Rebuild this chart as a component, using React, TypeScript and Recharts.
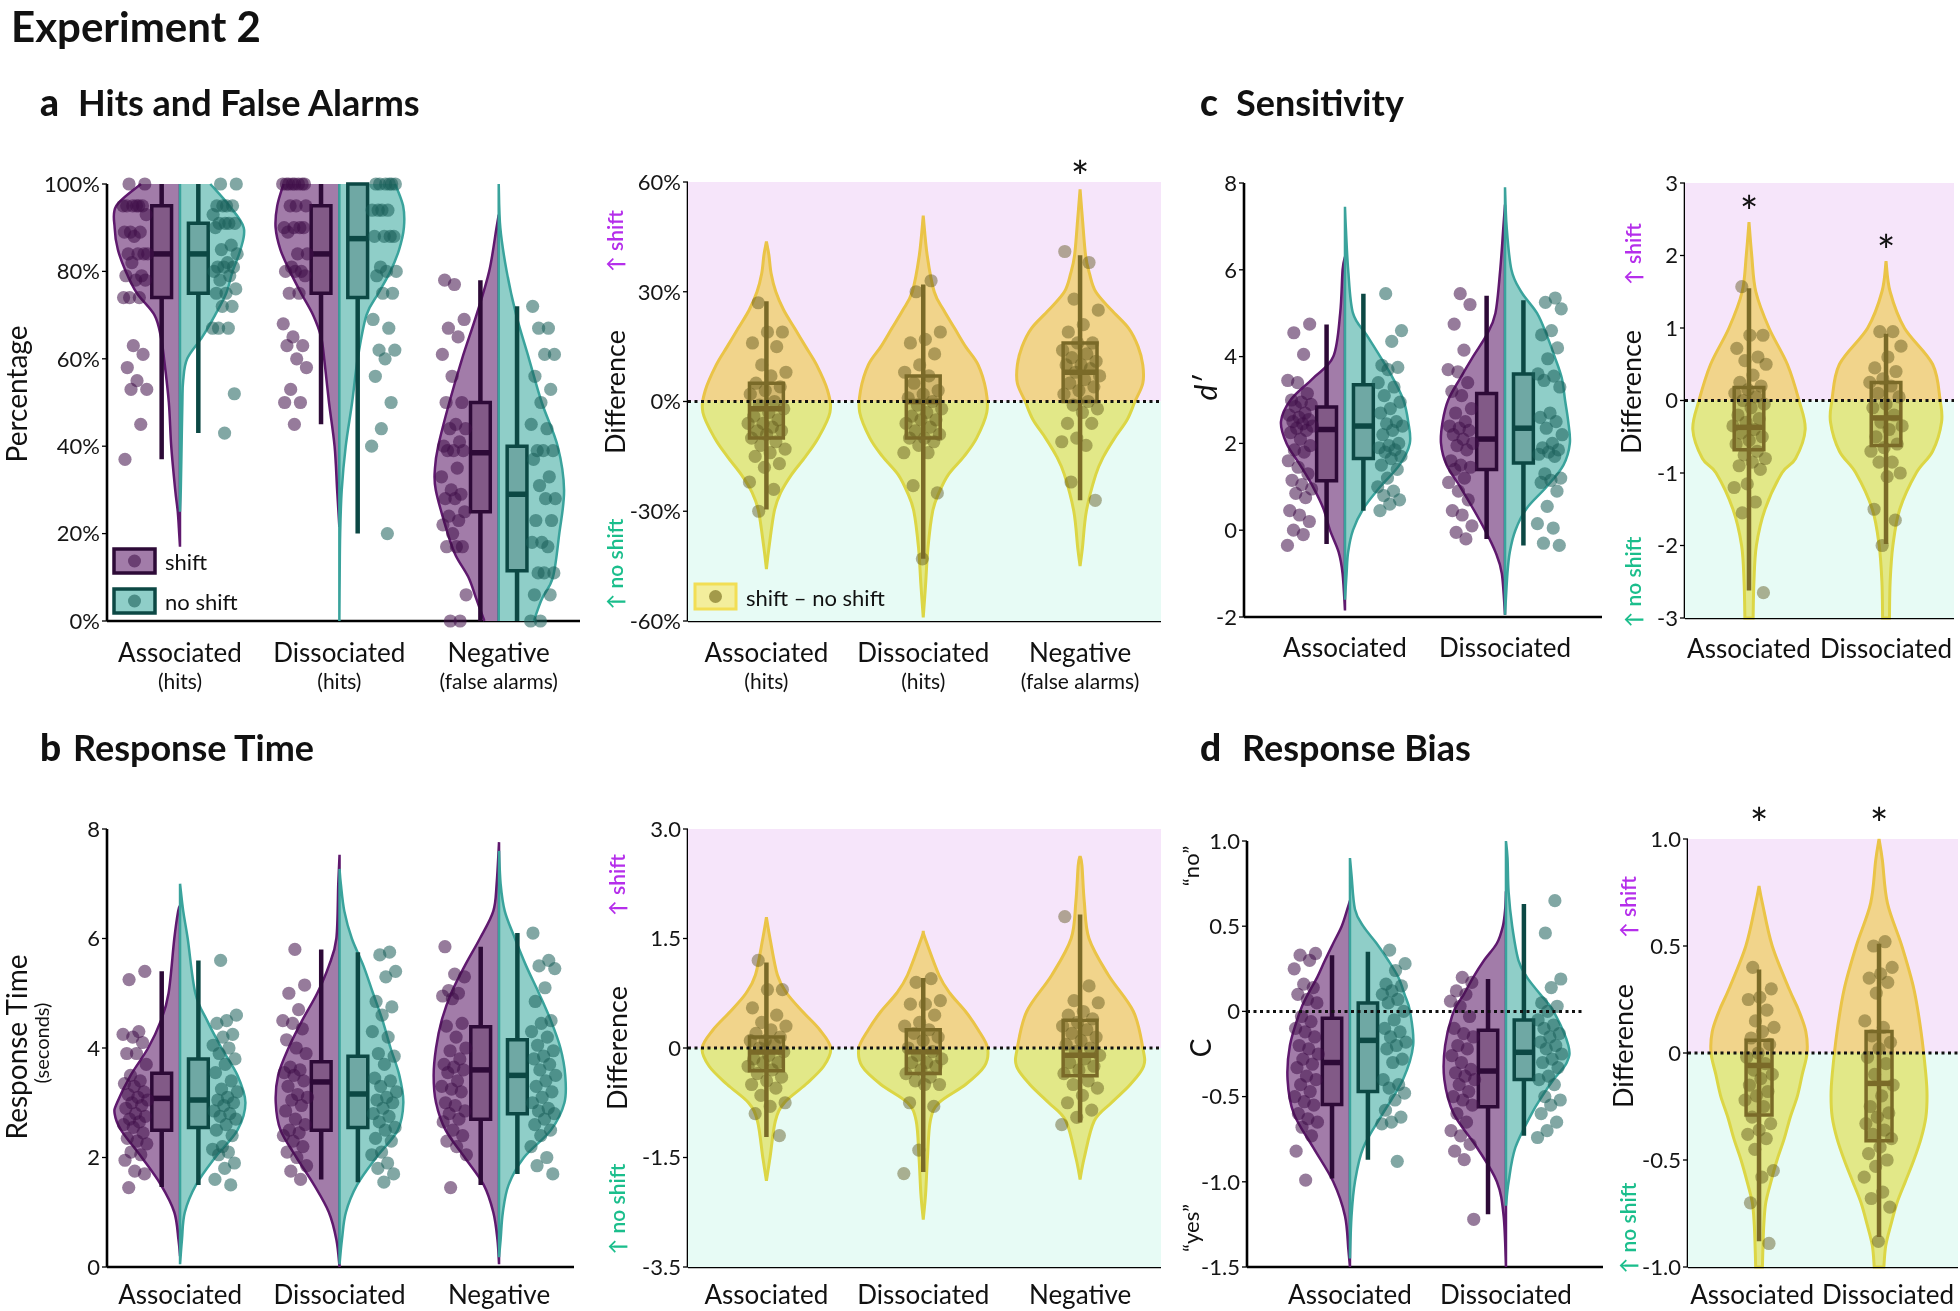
import React from "react";
import { ScatterChart, Scatter, XAxis, YAxis, ReferenceDot } from "recharts";

const FONT = "Lato, 'Noto Sans', sans-serif";

// ---------------- panel a : hits and false alarms (%) ----------------
const A_CATS = ["Associated", "Dissociated", "Negative"];
const A_SUBS = ["(hits)", "(hits)", "(false alarms)"];
const A_TICKS = [0, 20, 40, 60, 80, 100];
const A_TICK_LABELS = ["0%", "20%", "40%", "60%", "80%", "100%"];
const AD_TICKS = [-60, -30, 0, 30, 60];
const AD_TICK_LABELS = ["-60%", "-30%", "0%", "30%", "60%"];

// [value, half width], bottom to top
const A_SHIFT_VIOLIN = [
  [[17, 0], [20, 0.005], [25, 0.014], [30, 0.03], [40, 0.055], [50, 0.07], [60, 0.1], [65, 0.12], [70, 0.16], [75, 0.27], [80, 0.34], [85, 0.39], [90, 0.41], [95, 0.4], [100, 0.245]],
  [[21.5, 0], [30, 0.014], [40, 0.03], [50, 0.065], [60, 0.095], [65, 0.115], [70, 0.165], [75, 0.24], [80, 0.31], [85, 0.37], [90, 0.4], [95, 0.39], [100, 0.35]],
  [[0, 0.09], [5, 0.14], [10, 0.19], [15, 0.27], [20, 0.32], [30, 0.395], [35, 0.4], [40, 0.38], [50, 0.31], [60, 0.23], [70, 0.14], [80, 0.06], [90, 0.014], [93, 0]],
];
const A_NOSHIFT_VIOLIN = [
  [[25, 0], [30, 0.005], [40, 0.01], [50, 0.015], [55, 0.02], [60, 0.045], [65, 0.14], [70, 0.22], [75, 0.29], [80, 0.33], [85, 0.38], [90, 0.4], [95, 0.31], [100, 0.19]],
  [[0, 0], [10, 0.002], [20, 0.005], [30, 0.015], [40, 0.04], [50, 0.08], [60, 0.115], [70, 0.17], [75, 0.245], [80, 0.32], [85, 0.375], [90, 0.405], [95, 0.4], [100, 0.35]],
  [[0, 0.22], [5, 0.27], [10, 0.34], [20, 0.38], [30, 0.41], [40, 0.37], [50, 0.27], [60, 0.19], [70, 0.11], [80, 0.05], [90, 0.01], [100, 0]],
];
// [low whisker, q1, median, q3, high whisker]
const A_SHIFT_BOX = [[37, 74, 84, 95, 100], [45, 75, 84, 95, 100], [0, 25, 38.5, 50, 78]];
const A_NOSHIFT_BOX = [[43, 75, 84, 91, 100], [20, 74, 87.5, 100, 100], [0, 11.5, 29, 40, 72]];
const A_SHIFT_PTS = [
  [100, 100, 95, 95, 95, 95, 95, 95, 93, 89, 89, 89, 88, 84, 84, 84, 84, 82, 79, 79, 78, 78, 74, 74, 74, 63, 61, 58, 55, 53, 53, 45, 37],
  [100, 100, 100, 100, 100, 100, 100, 100, 95, 95, 95, 90, 90, 90, 90, 89, 84, 84, 81, 80, 80, 80, 79, 75, 75, 68, 65, 63, 63, 60, 58, 53, 50, 50, 45],
  [78, 77, 69, 67, 65, 61, 56, 50, 50, 45, 44, 44, 41, 40, 39, 39, 39, 35, 33, 30, 29, 28, 28, 25, 24, 23, 22, 20, 17, 17, 17, 6, 0, 0],
];
const A_NOSHIFT_PTS = [
  [100, 100, 95, 95, 95, 95, 93, 91, 91, 91, 91, 90, 86, 85, 84, 82, 81, 81, 81, 80, 79, 78, 76, 75, 75, 72, 72, 67, 67, 67, 52, 43],
  [100, 100, 100, 100, 100, 100, 94, 94, 94, 94, 88, 88, 88, 88, 81, 80, 80, 79, 75, 75, 69, 67, 62, 62, 60, 56, 50, 44, 40, 20],
  [72, 67, 67, 61, 61, 56, 53, 50, 45, 44, 39, 39, 39, 37, 33, 31, 28, 28, 23, 23, 18, 18, 17, 11, 11, 11, 6, 6, 0, 0],
];
const A_DIFF_VIOLIN = [
  [[-45.8, 0], [-40, 0.016], [-30, 0.05], [-25, 0.09], [-20, 0.16], [-15, 0.25], [-10, 0.33], [-3, 0.405], [3, 0.39], [10, 0.32], [15, 0.25], [20, 0.18], [25, 0.11], [30, 0.06], [35, 0.03], [40, 0.016], [43.7, 0]],
  [[-59, 0], [-50, 0.015], [-40, 0.03], [-30, 0.06], [-25, 0.1], [-20, 0.16], [-15, 0.26], [-10, 0.34], [-3, 0.405], [3, 0.4], [10, 0.35], [15, 0.27], [20, 0.2], [25, 0.13], [30, 0.07], [40, 0.025], [50.8, 0]],
  [[-45, 0], [-40, 0.015], [-30, 0.04], [-20, 0.1], [-15, 0.15], [-10, 0.22], [-5, 0.3], [0, 0.35], [5, 0.4], [10, 0.4], [15, 0.37], [20, 0.31], [25, 0.2], [30, 0.1], [35, 0.06], [40, 0.035], [50, 0.015], [58, 0]],
];
const A_DIFF_BOX = [[-29.5, -10, -2, 5, 27.4], [-43, -10, 0, 7, 32], [-27, 0, 8, 16, 40]];
const A_DIFF_PTS = [
  [27, 19, 19, 16, 15, 10, 8, 7, 5, 4, 3, 2, 0, -1, -2, -3, -4, -5, -6, -6, -7, -8, -8, -9, -10, -11, -12, -13, -14, -15, -17, -18, -22, -24, -30],
  [33, 30, 19, 17, 16, 13, 10, 8, 7, 5, 3, 2, 1, 0, -1, -2, -3, -4, -5, -5, -6, -7, -8, -9, -10, -10, -11, -12, -14, -14, -23, -25, -43],
  [41, 38, 28, 25, 21, 19, 16, 16, 14, 13, 12, 11, 10, 10, 9, 8, 7, 6, 5, 4, 3, 2, 0, -1, -2, -3, -6, -6, -10, -11, -12, -22, -27],
];
const A_DIFF_STARS = [[3, 63.8]];

// ---------------- panel b : response time (s) ----------------
const B_CATS = ["Associated", "Dissociated", "Negative"];
const B_TICKS = [0, 2, 4, 6, 8];
const B_TICK_LABELS = ["0", "2", "4", "6", "8"];
const BD_TICKS = [-3, -1.5, 0, 1.5, 3];
const BD_TICK_LABELS = ["-3.5", "-1.5", "0", "1.5", "3.0"];

const B_SHIFT_VIOLIN = [
  [[0.2, 0], [0.5, 0.01], [1, 0.036], [1.5, 0.12], [2, 0.24], [2.5, 0.37], [2.8, 0.41], [3, 0.395], [3.5, 0.31], [4, 0.2], [4.5, 0.12], [5, 0.072], [6, 0.036], [6.5, 0.012], [6.6, 0]],
  [[0, 0], [0.5, 0.02], [1, 0.067], [1.5, 0.16], [2, 0.27], [2.5, 0.37], [3, 0.4], [3.5, 0.385], [4, 0.32], [4.5, 0.235], [5, 0.14], [5.5, 0.067], [6, 0.02], [7, 0.008], [7.53, 0]],
  [[0.05, 0], [0.5, 0.01], [1, 0.036], [1.5, 0.096], [2, 0.215], [2.5, 0.335], [3, 0.395], [3.5, 0.41], [4, 0.395], [4.5, 0.36], [5, 0.3], [5.5, 0.215], [6, 0.12], [6.5, 0.036], [7, 0.015], [7.76, 0]],
];
const B_NOSHIFT_VIOLIN = [
  [[0.05, 0], [0.5, 0.012], [1, 0.03], [1.5, 0.1], [2, 0.22], [2.5, 0.36], [3, 0.41], [3.5, 0.36], [4, 0.26], [4.5, 0.17], [5, 0.096], [6, 0.048], [6.5, 0.02], [7, 0]],
  [[0.05, 0], [0.5, 0.015], [1, 0.04], [1.5, 0.11], [2, 0.23], [2.5, 0.365], [3, 0.4], [3.5, 0.375], [4, 0.32], [4.5, 0.27], [5, 0.21], [5.5, 0.15], [6, 0.077], [6.5, 0.03], [7, 0.008], [7.27, 0]],
  [[0.18, 0], [0.5, 0.01], [1, 0.024], [1.5, 0.06], [2, 0.156], [2.5, 0.325], [3, 0.41], [3.5, 0.415], [4, 0.385], [4.5, 0.325], [5, 0.25], [5.5, 0.17], [6, 0.1], [6.5, 0.036], [7, 0.01], [7.6, 0]],
];
const B_SHIFT_BOX = [[1.46, 2.5, 3.08, 3.54, 5.4], [1.6, 2.5, 3.38, 3.75, 5.8], [1.5, 2.7, 3.6, 4.39, 5.85]];
const B_NOSHIFT_BOX = [[1.5, 2.55, 3.05, 3.8, 5.6], [1.55, 2.55, 3.16, 3.85, 5.75], [1.7, 2.8, 3.5, 4.15, 6.1]];
const B_SHIFT_PTS = [
  [5.4, 5.25, 4.3, 4.25, 4.2, 4.1, 3.9, 3.9, 3.7, 3.5, 3.4, 3.35, 3.3, 3.2, 3.15, 3.1, 3.05, 3.0, 2.95, 2.9, 2.8, 2.75, 2.7, 2.65, 2.6, 2.55, 2.45, 2.35, 2.3, 2.25, 2.1, 2.05, 1.95, 1.75, 1.7, 1.45],
  [5.8, 5.15, 5.0, 4.7, 4.5, 4.45, 4.35, 4.15, 4.0, 3.9, 3.65, 3.6, 3.55, 3.5, 3.4, 3.3, 3.15, 3.1, 3.05, 2.95, 2.85, 2.7, 2.6, 2.5, 2.45, 2.4, 2.3, 2.2, 2.1, 2.0, 1.85, 1.75, 1.6],
  [5.85, 5.35, 5.3, 5.05, 5.0, 4.95, 4.9, 4.45, 4.4, 4.2, 4.0, 3.95, 3.8, 3.7, 3.65, 3.6, 3.55, 3.4, 3.3, 3.25, 3.2, 3.0, 2.95, 2.85, 2.8, 2.7, 2.65, 2.5, 2.4, 2.3, 2.2, 2.05, 1.45],
];
const B_NOSHIFT_PTS = [
  [5.6, 4.6, 4.5, 4.45, 4.25, 4.2, 4.05, 4.0, 3.9, 3.8, 3.7, 3.55, 3.4, 3.25, 3.2, 3.1, 3.05, 3.0, 2.95, 2.85, 2.8, 2.75, 2.7, 2.6, 2.5, 2.4, 2.2, 2.15, 2.1, 2.05, 1.9, 1.8, 1.6, 1.5],
  [5.75, 5.7, 5.4, 5.3, 4.85, 4.75, 4.6, 4.3, 4.2, 3.9, 3.85, 3.7, 3.45, 3.4, 3.3, 3.2, 3.1, 3.05, 3.0, 2.9, 2.8, 2.75, 2.65, 2.55, 2.5, 2.35, 2.3, 2.1, 2.05, 1.9, 1.8, 1.7, 1.55],
  [6.1, 5.6, 5.5, 5.45, 5.1, 4.85, 4.5, 4.45, 4.3, 4.2, 4.05, 3.95, 3.85, 3.8, 3.7, 3.6, 3.5, 3.4, 3.3, 3.2, 3.1, 3.0, 2.9, 2.85, 2.8, 2.7, 2.6, 2.5, 2.4, 2.2, 2.0, 1.85, 1.7],
];
const B_DIFF_VIOLIN = [
  [[-1.82, 0], [-1.5, 0.023], [-1, 0.057], [-0.75, 0.114], [-0.5, 0.25], [-0.25, 0.365], [0, 0.41], [0.25, 0.34], [0.5, 0.23], [0.75, 0.13], [1, 0.07], [1.5, 0.023], [1.79, 0]],
  [[-2.35, 0], [-2, 0.015], [-1.5, 0.027], [-1, 0.045], [-0.75, 0.1], [-0.5, 0.27], [-0.25, 0.39], [0, 0.41], [0.25, 0.35], [0.5, 0.27], [0.75, 0.17], [1, 0.1], [1.5, 0.012], [1.6, 0]],
  [[-1.8, 0], [-1.5, 0.027], [-1, 0.09], [-0.75, 0.2], [-0.5, 0.32], [-0.25, 0.405], [0, 0.4], [0.5, 0.34], [1, 0.18], [1.5, 0.057], [2, 0.027], [2.5, 0.012], [2.63, 0]],
];
const B_DIFF_BOX = [[-1.22, -0.31, -0.055, 0.15, 1.17], [-1.7, -0.35, -0.05, 0.25, 0.96], [-1.02, -0.38, -0.1, 0.38, 1.83]];
const B_DIFF_PTS = [
  [1.2, 0.8, 0.8, 0.55, 0.45, 0.35, 0.3, 0.25, 0.2, 0.15, 0.1, 0.1, 0.05, 0.0, -0.05, -0.1, -0.15, -0.2, -0.2, -0.25, -0.3, -0.35, -0.4, -0.45, -0.5, -0.55, -0.65, -0.75, -0.8, -0.9, -1.2],
  [0.95, 0.9, 0.65, 0.6, 0.6, 0.45, 0.35, 0.3, 0.25, 0.2, 0.15, 0.1, 0.0, -0.05, -0.1, -0.15, -0.2, -0.2, -0.25, -0.3, -0.35, -0.4, -0.45, -0.5, -0.5, -0.75, -0.8, -1.4, -1.72],
  [1.8, 0.85, 0.65, 0.62, 0.5, 0.45, 0.4, 0.35, 0.3, 0.25, 0.2, 0.15, 0.1, 0.05, 0.0, -0.05, -0.1, -0.15, -0.2, -0.25, -0.3, -0.35, -0.45, -0.5, -0.55, -0.65, -0.75, -0.85, -0.95, -1.05],
];

// ---------------- panel c : sensitivity (d') ----------------
const C_CATS = ["Associated", "Dissociated"];
const C_TICKS = [-2, 0, 2, 4, 6, 8];
const C_TICK_LABELS = ["-2", "0", "2", "4", "6", "8"];
const CD_TICKS = [-3, -2, -1, 0, 1, 2, 3];
const CD_TICK_LABELS = ["-3", "-2", "-1", "0", "1", "2", "3"];

const C_SHIFT_VIOLIN = [
  [[-1.85, 0], [-1, 0.015], [-0.5, 0.04], [0, 0.094], [0.5, 0.135], [1, 0.2], [1.5, 0.28], [2, 0.365], [2.5, 0.4], [3, 0.34], [3.5, 0.2], [4, 0.073], [5, 0.03], [6, 0.015], [6.3, 0]],
  [[-1.95, 0], [-1, 0.02], [-0.5, 0.06], [0, 0.125], [0.5, 0.2], [1, 0.28], [1.5, 0.365], [2, 0.4], [2.5, 0.39], [3, 0.355], [3.5, 0.28], [4, 0.2], [4.5, 0.115], [5, 0.06], [6, 0.03], [7, 0.01], [7.5, 0]],
];
const C_NOSHIFT_VIOLIN = [
  [[-1.6, 0], [-1, 0.01], [-0.5, 0.02], [0, 0.05], [0.5, 0.115], [1, 0.22], [1.5, 0.34], [2, 0.405], [2.5, 0.395], [3, 0.365], [3.5, 0.3], [4, 0.22], [4.5, 0.135], [5, 0.05], [6, 0.02], [7, 0.005], [7.45, 0]],
  [[-1.95, 0], [-1, 0.015], [-0.5, 0.03], [0, 0.065], [0.5, 0.135], [1, 0.26], [1.5, 0.365], [2, 0.405], [2.5, 0.395], [3, 0.375], [3.5, 0.355], [4, 0.31], [4.5, 0.26], [5, 0.2], [5.5, 0.1], [6, 0.04], [7, 0.01], [7.9, 0]],
];
const C_SHIFT_BOX = [[-0.32, 1.14, 2.32, 2.84, 4.74], [-0.2, 1.4, 2.1, 3.15, 5.4]];
const C_NOSHIFT_BOX = [[0.45, 1.65, 2.4, 3.35, 5.45], [-0.35, 1.55, 2.35, 3.6, 5.3]];
const C_SHIFT_PTS = [
  [4.75, 4.55, 4.05, 3.45, 3.4, 3.15, 3.0, 2.95, 2.9, 2.85, 2.7, 2.65, 2.6, 2.55, 2.5, 2.45, 2.4, 2.35, 2.3, 2.25, 2.1, 1.95, 1.85, 1.8, 1.6, 1.45, 1.3, 1.15, 1.05, 0.95, 0.85, 0.75, 0.45, 0.35, 0.2, 0.0, -0.1, -0.35],
  [5.45, 5.2, 4.75, 4.15, 3.7, 3.65, 3.4, 3.2, 3.1, 2.8, 2.7, 2.5, 2.4, 2.35, 2.3, 2.2, 2.1, 2.0, 1.95, 1.85, 1.6, 1.5, 1.45, 1.4, 1.2, 1.1, 0.9, 0.7, 0.45, 0.35, 0.1, -0.05, -0.2],
];
const C_NOSHIFT_PTS = [
  [5.45, 4.6, 4.35, 3.8, 3.75, 3.7, 3.4, 3.3, 3.1, 2.95, 2.8, 2.7, 2.5, 2.45, 2.4, 2.3, 2.2, 2.0, 1.95, 1.9, 1.85, 1.8, 1.7, 1.65, 1.5, 1.4, 1.2, 1.0, 0.9, 0.8, 0.7, 0.6, 0.45],
  [5.35, 5.25, 5.1, 4.6, 4.5, 4.2, 3.95, 3.6, 3.55, 3.45, 3.3, 2.7, 2.6, 2.5, 2.35, 2.2, 2.0, 1.9, 1.85, 1.8, 1.75, 1.7, 1.3, 1.2, 1.15, 1.1, 0.9, 0.55, 0.15, 0.05, -0.3, -0.35],
];
const C_DIFF_VIOLIN = [
  [[-3, 0.03], [-2.5, 0.036], [-2, 0.054], [-1.5, 0.117], [-1, 0.24], [-0.8, 0.34], [-0.4, 0.41], [0, 0.365], [0.5, 0.28], [1, 0.146], [1.5, 0.05], [2, 0.02], [2.46, 0]],
  [[-3, 0.025], [-2.5, 0.03], [-2, 0.05], [-1.5, 0.1], [-1, 0.22], [-0.7, 0.34], [-0.3, 0.405], [0, 0.395], [0.5, 0.34], [1, 0.134], [1.5, 0.03], [1.92, 0]],
];
const C_DIFF_BOX = [[-2.62, -0.68, -0.37, 0.18, 1.55], [-1.98, -0.62, -0.24, 0.25, 0.92]];
const C_DIFF_PTS = [
  [1.57, 0.9, 0.9, 0.72, 0.6, 0.55, 0.5, 0.35, 0.25, 0.2, 0.15, 0.1, 0.05, 0.0, -0.05, -0.1, -0.2, -0.25, -0.3, -0.35, -0.4, -0.45, -0.5, -0.55, -0.6, -0.7, -0.75, -0.8, -0.85, -0.9, -0.95, -1.15, -1.2, -1.4, -1.55, -2.65],
  [0.95, 0.95, 0.75, 0.6, 0.45, 0.4, 0.3, 0.25, 0.2, 0.1, 0.05, -0.05, -0.1, -0.2, -0.3, -0.35, -0.4, -0.5, -0.6, -0.65, -0.7, -0.85, -0.85, -1.0, -1.05, -1.5, -1.65, -2.0],
];
const C_DIFF_STARS = [[1, 2.72], [2, 2.19]];

// ---------------- panel d : response bias (C) ----------------
const D_CATS = ["Associated", "Dissociated"];
const D_TICKS = [-1.5, -1, -0.5, 0, 0.5, 1];
const D_TICK_LABELS = ["-1.5", "-1.0", "-0.5", "0", "0.5", "1.0"];
const DD_TICKS = [-1, -0.5, 0, 0.5, 1];
const DD_TICK_LABELS = ["-1.0", "-0.5", "0", "0.5", "1.0"];

const D_SHIFT_VIOLIN = [
  [[-1.5, 0], [-1.4, 0.01], [-1.2, 0.032], [-1, 0.107], [-0.8, 0.235], [-0.6, 0.36], [-0.4, 0.4], [-0.2, 0.385], [0, 0.32], [0.1, 0.27], [0.2, 0.21], [0.3, 0.16], [0.4, 0.107], [0.5, 0.053], [0.6, 0.017], [0.65, 0]],
  [[-1.5, 0], [-1.2, 0.015], [-1, 0.058], [-0.8, 0.185], [-0.6, 0.335], [-0.4, 0.395], [-0.2, 0.39], [0, 0.335], [0.1, 0.27], [0.2, 0.21], [0.3, 0.14], [0.4, 0.058], [0.5, 0.02], [0.6, 0.005], [0.705, 0]],
];
const D_NOSHIFT_VIOLIN = [
  [[-1.45, 0], [-1.2, 0.01], [-1, 0.032], [-0.8, 0.085], [-0.6, 0.21], [-0.4, 0.34], [-0.2, 0.405], [0, 0.385], [0.1, 0.35], [0.2, 0.31], [0.3, 0.245], [0.4, 0.17], [0.5, 0.085], [0.6, 0.032], [0.8, 0.01], [0.9, 0]],
  [[-1.14, 0], [-1, 0.017], [-0.8, 0.06], [-0.6, 0.165], [-0.5, 0.23], [-0.4, 0.305], [-0.3, 0.39], [-0.2, 0.4], [0, 0.305], [0.1, 0.22], [0.2, 0.135], [0.3, 0.08], [0.5, 0.04], [0.7, 0.017], [0.9, 0.01], [1.0, 0]],
];
const D_SHIFT_BOX = [[-0.98, -0.547, -0.3, -0.04, 0.33], [-1.19, -0.56, -0.35, -0.11, 0.19]];
const D_NOSHIFT_BOX = [[-0.87, -0.47, -0.17, 0.05, 0.35], [-0.73, -0.4, -0.24, -0.05, 0.63]];
const D_SHIFT_PTS = [
  [0.34, 0.33, 0.3, 0.25, 0.16, 0.14, 0.1, 0.07, 0.05, -0.03, -0.06, -0.1, -0.12, -0.15, -0.2, -0.22, -0.25, -0.28, -0.31, -0.33, -0.38, -0.4, -0.43, -0.47, -0.5, -0.53, -0.55, -0.6, -0.63, -0.65, -0.68, -0.73, -0.82, -0.99],
  [0.2, 0.17, 0.12, 0.1, 0.06, 0.03, -0.03, -0.1, -0.13, -0.15, -0.2, -0.22, -0.26, -0.3, -0.34, -0.36, -0.38, -0.4, -0.43, -0.47, -0.5, -0.52, -0.55, -0.6, -0.65, -0.7, -0.73, -0.78, -0.82, -0.87, -1.22],
];
const D_NOSHIFT_PTS = [
  [0.36, 0.28, 0.24, 0.16, 0.15, 0.12, 0.1, 0.07, 0.05, 0.0, -0.05, -0.1, -0.12, -0.15, -0.18, -0.2, -0.22, -0.28, -0.3, -0.4, -0.43, -0.45, -0.48, -0.52, -0.58, -0.62, -0.65, -0.66, -0.88],
  [0.65, 0.46, 0.19, 0.14, 0.05, 0.03, 0.0, -0.05, -0.08, -0.1, -0.13, -0.15, -0.18, -0.2, -0.22, -0.25, -0.28, -0.3, -0.33, -0.38, -0.4, -0.43, -0.5, -0.52, -0.55, -0.6, -0.65, -0.7, -0.74],
];
const D_DIFF_VIOLIN = [
  [[-1, 0.028], [-0.9, 0.033], [-0.8, 0.04], [-0.7, 0.056], [-0.6, 0.1], [-0.5, 0.15], [-0.4, 0.21], [-0.3, 0.26], [-0.2, 0.32], [-0.1, 0.36], [0, 0.4], [0.1, 0.39], [0.2, 0.33], [0.3, 0.25], [0.5, 0.11], [0.7, 0.028], [0.78, 0]],
  [[-1, 0.04], [-0.9, 0.056], [-0.8, 0.1], [-0.7, 0.15], [-0.6, 0.22], [-0.5, 0.29], [-0.4, 0.35], [-0.3, 0.39], [-0.2, 0.4], [-0.1, 0.39], [0.1, 0.35], [0.3, 0.29], [0.5, 0.19], [0.7, 0.07], [0.9, 0.028], [1.0, 0]],
];
const D_DIFF_BOX = [[-0.88, -0.29, -0.058, 0.06, 0.39], [-0.86, -0.41, -0.142, 0.1, 0.51]];
const D_DIFF_PTS = [
  [0.4, 0.3, 0.26, 0.25, 0.2, 0.15, 0.12, 0.1, 0.07, 0.04, 0.0, -0.02, -0.05, -0.08, -0.1, -0.12, -0.15, -0.18, -0.2, -0.22, -0.25, -0.3, -0.33, -0.36, -0.38, -0.4, -0.45, -0.55, -0.58, -0.7, -0.89],
  [0.52, 0.5, 0.4, 0.37, 0.35, 0.33, 0.28, 0.15, 0.12, 0.08, 0.05, 0.02, -0.02, -0.05, -0.1, -0.15, -0.2, -0.25, -0.28, -0.3, -0.33, -0.36, -0.38, -0.4, -0.44, -0.47, -0.5, -0.53, -0.58, -0.65, -0.68, -0.72, -0.88],
];
const D_DIFF_STARS = [[1, 1.11], [2, 1.11]];

// ---------------- styles ----------------
const PUR = { fill: "#A27CA9", edge: "#5F196E", box: "#825A87", dark: "#2D0A37", pt: "#3F0F48" };
const TEA = { fill: "#8FCEC8", edge: "#3AA39C", box: "#6FA8A4", dark: "#0C4844", pt: "#195F5A" };
const YEL = { fill: "#FAEC8E", edge: "#F3DA48", box: "rgba(110,95,25,0.22)", dark: "#7A6A28", pt: "#5A5218" };
const PINK = "#F6E5FA";
const MINT = "#E7FBF5";
const BOX_OFF = 0.115;
const BOX_HW = 0.062;
const DIFF_HW = 0.108;

type Pt = { x: number; y: number };
type Frame = { left: number; top: number; width: number; height: number; mt: number; mr: number; yw: number; xh: number; lab: number };

const FA1: Frame = { left: 0, top: 150, width: 590, height: 546, mt: 34, mr: 10, yw: 107, xh: 75, lab: 31 };
const FA2: Frame = { left: 600, top: 130, width: 565, height: 566, mt: 52, mr: 4, yw: 88, xh: 75, lab: 31 };
const FC1: Frame = { left: 1184, top: 150, width: 424, height: 542, mt: 33, mr: 6, yw: 60, xh: 75, lab: 30 };
const FC2: Frame = { left: 1640, top: 150, width: 318, height: 543, mt: 33, mr: 4, yw: 45, xh: 75, lab: 30 };
const FB1: Frame = { left: 0, top: 800, width: 584, height: 511, mt: 29, mr: 10, yw: 107, xh: 44, lab: 27 };
const FB2: Frame = { left: 600, top: 800, width: 565, height: 511, mt: 29, mr: 4, yw: 88, xh: 44, lab: 27 };
const FD1: Frame = { left: 1187, top: 800, width: 422, height: 511, mt: 41, mr: 6, yw: 60, xh: 44, lab: 27 };
const FD2: Frame = { left: 1640, top: 775, width: 320, height: 536, mt: 64, mr: 2, yw: 48, xh: 44, lab: 27 };

const jit = (i: number, seed: number) => (i * 0.6180339887 + seed) % 1;

// catmull-rom through pixel points, returned as cubic segments
function smooth(pts: Pt[]): string {
  let d = "";
  for (let i = 0; i < pts.length - 1; i++) {
    const p0 = pts[i - 1] || pts[i];
    const p1 = pts[i];
    const p2 = pts[i + 1];
    const p3 = pts[i + 2] || p2;
    d += ` C${p1.x + (p2.x - p0.x) / 6},${p1.y + (p2.y - p0.y) / 6} ${p2.x - (p3.x - p1.x) / 6},${p2.y - (p3.y - p1.y) / 6} ${p2.x},${p2.y}`;
  }
  return d;
}

const NoShape = () => <g />;

const HalfViolin = (p: any) => {
  const pts: Pt[] = p.points || [];
  if (pts.length < 4) return null;
  const cb = pts[0];
  const ct = pts[pts.length - 1];
  const edge = pts.slice(1, -1);
  const c = smooth(edge);
  return (
    <g>
      <path d={`M${cb.x},${cb.y} L${edge[0].x},${edge[0].y}${c} L${ct.x},${ct.y} Z`} fill={p.vFill} stroke="none" />
      <path d={`M${edge[0].x},${edge[0].y}${c} M${ct.x},${ct.y} L${cb.x},${cb.y}`} fill="none" stroke={p.vStroke} strokeWidth={2.5} />
    </g>
  );
};

const FullViolin = (p: any) => {
  const pts: Pt[] = p.points || [];
  if (pts.length < 3) return null;
  const cx = pts[0].x;
  const right = pts.slice(1);
  const left = right.map((q) => ({ x: 2 * cx - q.x, y: q.y })).reverse();
  const d = `M${right[0].x},${right[0].y}${smooth(right)} L${left[0].x},${left[0].y}${smooth(left)} Z`;
  return <path d={d} fill={p.vFill} stroke={p.vStroke} strokeWidth={3} style={{ mixBlendMode: "multiply" }} />;
};

const Poly = (p: any) => {
  const pts: Pt[] = p.points || [];
  if (pts.length < 2) return null;
  const d = pts.map((q, i) => `${i ? "L" : "M"}${q.x},${q.y}`).join(" ") + (p.closed ? " Z" : "");
  return (
    <path d={d} fill={p.closed ? p.pFill : "none"} stroke={p.pStroke || "none"} strokeWidth={p.sw || 0} strokeDasharray={p.dash} />
  );
};

const mk = (key: string, data: Pt[], line: React.ReactElement) => (
  <Scatter key={key} data={data} line={line} shape={NoShape} isAnimationActive={false} />
);

const dots = (key: string, data: Pt[], color: string, op: number) => (
  <Scatter
    key={key}
    data={data}
    isAnimationActive={false}
    shape={(s: any) => <circle cx={s.cx} cy={s.cy} r={6.6} fill={color} fillOpacity={op} />}
  />
);

function boxMarks(id: string, bx: number, hw: number, b: number[], col: any, wsw: number) {
  const [lo, q1, md, q3, hi] = b;
  return [
    mk(`${id}w`, [{ x: bx, y: lo }, { x: bx, y: hi }], <Poly pStroke={col.dark} sw={wsw} />),
    mk(`${id}b`, [{ x: bx - hw, y: q1 }, { x: bx + hw, y: q1 }, { x: bx + hw, y: q3 }, { x: bx - hw, y: q3 }], <Poly closed pFill={col.box} pStroke={col.dark} sw={3.5} />),
    mk(`${id}m`, [{ x: bx - hw, y: md }, { x: bx + hw, y: md }], <Poly pStroke={col.dark} sw={5.5} />),
  ];
}

function splitMarks(id: string, sv: number[][][], nv: number[][][], sb: number[][], nb: number[][], sp: number[][], np: number[][]) {
  const out: React.ReactElement[] = [];
  const sides = [
    { s: -1, V: sv, B: sb, P: sp, col: PUR },
    { s: 1, V: nv, B: nb, P: np, col: TEA },
  ];
  sv.forEach((_, i) => {
    const c = i + 1;
    sides.forEach(({ s, V, col }, k) => {
      const prof = V[i];
      const data = [
        { x: c, y: prof[0][0] },
        ...prof.map(([v, w]) => ({ x: c + s * w, y: v })),
        { x: c, y: prof[prof.length - 1][0] },
      ];
      out.push(mk(`${id}v${i}${k}`, data, <HalfViolin vFill={col.fill} vStroke={col.edge} />));
    });
  });
  sv.forEach((_, i) => {
    sides.forEach(({ s, B, col }, k) => {
      out.push(...boxMarks(`${id}x${i}${k}`, i + 1 + s * BOX_OFF, BOX_HW, B[i], col, 4.5));
    });
  });
  sv.forEach((_, i) => {
    sides.forEach(({ s, P, col }, k) => {
      const data = P[i].map((v, j) => ({ x: i + 1 + s * (0.2 + 0.16 * jit(j, 0.13 + 0.37 * i + 0.21 * k)), y: v }));
      out.push(dots(`${id}p${i}${k}`, data, col.pt, 0.55));
    });
  });
  return out;
}

function zeroLine(id: string, x0: number, x1: number) {
  return mk(`${id}zero`, [{ x: x0, y: 0 }, { x: x1, y: 0 }], <Poly pStroke="#111" sw={3} dash="3 3.5" />);
}

function diffMarks(id: string, xd: number[], yd: number[], V: number[][][], B: number[][], P: number[][]) {
  const [x0, x1] = xd;
  const [y0, y1] = yd;
  const out: React.ReactElement[] = [
    mk(`${id}bp`, [{ x: x0, y: 0 }, { x: x1, y: 0 }, { x: x1, y: y1 }, { x: x0, y: y1 }], <Poly closed pFill={PINK} />),
    mk(`${id}bm`, [{ x: x0, y: y0 }, { x: x1, y: y0 }, { x: x1, y: 0 }, { x: x0, y: 0 }], <Poly closed pFill={MINT} />),
  ];
  V.forEach((prof, i) => {
    const c = i + 1;
    const data = [{ x: c, y: prof[0][0] }, ...prof.map(([v, w]) => ({ x: c + w, y: v }))];
    out.push(mk(`${id}v${i}`, data, <FullViolin vFill={YEL.fill} vStroke={YEL.edge} />));
  });
  P.forEach((vals, i) => {
    const data = vals.map((v, j) => ({ x: i + 1 + (jit(j, 0.29 + 0.41 * i) * 2 - 1) * 0.125, y: v }));
    out.push(dots(`${id}p${i}`, data, YEL.pt, 0.45));
  });
  B.forEach((b, i) => out.push(...boxMarks(`${id}x${i}`, i + 1, DIFF_HW, b, YEL, 4.5)));
  out.push(zeroLine(id, x0, x1));
  return out;
}

const catTick = (cats: string[], off: number, subs?: string[], dx?: number[]) => (t: any) => {
  const i = Math.round(t.payload.value) - 1;
  const x = t.x + (dx ? dx[i] : 0);
  return (
    <g>
      <text x={x} y={t.y + off} textAnchor="middle" dominantBaseline="central" fontSize={26} fontFamily={FONT} fill="#111">
        {cats[i]}
      </text>
      {subs ? (
        <text x={x} y={t.y + off + 28} textAnchor="middle" dominantBaseline="central" fontSize={21} fontFamily={FONT} fill="#111">
          {subs[i]}
        </text>
      ) : null}
    </g>
  );
};

const Star = (s: any) => (
  <text x={s.cx} y={s.cy + 25} textAnchor="middle" fontSize={44} fontFamily={FONT} fill="#111">
    *
  </text>
);

function Panel(props: {
  f: Frame;
  xd: number[];
  yd: number[];
  ticks: number[];
  labels: string[];
  cats: string[];
  subs?: string[];
  labelDx?: number[];
  stars?: number[][];
  children: React.ReactNode;
}) {
  const { f, xd, yd, ticks, labels, cats, subs, stars, labelDx } = props;
  return (
    <div style={{ position: "absolute", left: f.left, top: f.top }}>
      <ScatterChart width={f.width} height={f.height} margin={{ top: f.mt, right: f.mr, bottom: 0, left: 0 }}>
        <XAxis
          type="number"
          dataKey="x"
          domain={xd}
          ticks={cats.map((_, i) => i + 1)}
          interval={0}
          height={f.xh}
          tickSize={0}
          tickMargin={0}
          tickLine={false}
          axisLine={{ stroke: "#000", strokeWidth: 2.6 }}
          tick={catTick(cats, f.lab, subs, labelDx)}
        />
        <YAxis
          type="number"
          dataKey="y"
          domain={yd}
          ticks={ticks}
          interval={0}
          width={f.yw}
          tickSize={5}
          tickMargin={2}
          tickFormatter={(v: number) => labels[ticks.indexOf(v)] ?? String(v)}
          tick={{ fontSize: 22, fontFamily: FONT, fill: "#151515" }}
          axisLine={{ stroke: "#000", strokeWidth: 2.6 }}
          tickLine={{ stroke: "#000", strokeWidth: 1.3 }}
        />
        {props.children}
        {(stars || []).map(([c, y], i) => (
          <ReferenceDot key={`star${i}`} x={c} y={y} r={0} ifOverflow="visible" shape={Star} />
        ))}
      </ScatterChart>
    </div>
  );
}

const VT = (p: { x: number; y: number; size: number; color?: string; weight?: number; italic?: boolean; children: React.ReactNode }) => (
  <text
    x={p.x}
    y={p.y}
    fontSize={p.size}
    fill={p.color || "#111"}
    fontWeight={p.weight || 400}
    fontStyle={p.italic ? "italic" : "normal"}
    textAnchor="middle"
    dominantBaseline="central"
    transform={`rotate(-90 ${p.x} ${p.y})`}
  >
    {p.children}
  </text>
);

const SHIFT_C = "#B52EEB";
const NOSHIFT_C = "#1BBE8C";

export default function App() {
  const xA1 = [0.542, 3.51];
  const xA2 = [0.5, 3.516];
  const xC1 = [0.369, 2.606];
  const xC2 = [0.533, 2.496];
  const xB1 = [0.542, 3.47];
  const xD1 = [0.34, 2.622];
  const xD2 = [0.408, 2.658];
  return (
    <div style={{ position: "absolute", left: 0, top: 0, width: 1960, height: 1311, background: "#fff", overflow: "hidden", fontFamily: FONT }}>
      <Panel f={FA1} xd={xA1} yd={[0, 100]} ticks={A_TICKS} labels={A_TICK_LABELS} cats={A_CATS} subs={A_SUBS}>
        {splitMarks("a1", A_SHIFT_VIOLIN, A_NOSHIFT_VIOLIN, A_SHIFT_BOX, A_NOSHIFT_BOX, A_SHIFT_PTS, A_NOSHIFT_PTS)}
      </Panel>
      <Panel f={FA2} xd={xA2} yd={[-60, 60]} ticks={AD_TICKS} labels={AD_TICK_LABELS} cats={A_CATS} subs={A_SUBS} stars={A_DIFF_STARS}>
        {diffMarks("a2", xA2, [-60, 60], A_DIFF_VIOLIN, A_DIFF_BOX, A_DIFF_PTS)}
      </Panel>
      <Panel f={FC1} xd={xC1} yd={[-2, 8]} ticks={C_TICKS} labels={C_TICK_LABELS} cats={C_CATS}>
        {splitMarks("c1", C_SHIFT_VIOLIN, C_NOSHIFT_VIOLIN, C_SHIFT_BOX, C_NOSHIFT_BOX, C_SHIFT_PTS, C_NOSHIFT_PTS)}
      </Panel>
      <Panel f={FC2} xd={xC2} yd={[-3, 3]} ticks={CD_TICKS} labels={CD_TICK_LABELS} cats={C_CATS} stars={C_DIFF_STARS}>
        {diffMarks("c2", xC2, [-3, 3], C_DIFF_VIOLIN, C_DIFF_BOX, C_DIFF_PTS)}
      </Panel>
      <Panel f={FB1} xd={xB1} yd={[0, 8]} ticks={B_TICKS} labels={B_TICK_LABELS} cats={B_CATS}>
        {splitMarks("b1", B_SHIFT_VIOLIN, B_NOSHIFT_VIOLIN, B_SHIFT_BOX, B_NOSHIFT_BOX, B_SHIFT_PTS, B_NOSHIFT_PTS)}
      </Panel>
      <Panel f={FB2} xd={xA2} yd={[-3, 3]} ticks={BD_TICKS} labels={BD_TICK_LABELS} cats={B_CATS}>
        {diffMarks("b2", xA2, [-3, 3], B_DIFF_VIOLIN, B_DIFF_BOX, B_DIFF_PTS)}
      </Panel>
      <Panel f={FD1} xd={xD1} yd={[-1.5, 1]} ticks={D_TICKS} labels={D_TICK_LABELS} cats={D_CATS}>
        {[
          ...splitMarks("d1", D_SHIFT_VIOLIN, D_NOSHIFT_VIOLIN, D_SHIFT_BOX, D_NOSHIFT_BOX, D_SHIFT_PTS, D_NOSHIFT_PTS),
          zeroLine("d1", xD1[0], 2.506),
        ]}
      </Panel>
      <Panel f={FD2} xd={xD2} yd={[-1, 1]} ticks={DD_TICKS} labels={DD_TICK_LABELS} cats={D_CATS} labelDx={[-7, 9]} stars={D_DIFF_STARS}>
        {diffMarks("d2", xD2, [-1, 1], D_DIFF_VIOLIN, D_DIFF_BOX, D_DIFF_PTS)}
      </Panel>

      <svg width={1960} height={1311} style={{ position: "absolute", left: 0, top: 0, pointerEvents: "none" }} fontFamily={FONT}>
        <text x={11} y={42} fontSize={42} fontWeight={700} fill="#111">Experiment 2</text>

        <text x={40} y={116} fontSize={37} fontWeight={900} fill="#111">a</text>
        <text x={78} y={116} fontSize={36} fontWeight={700} fill="#111">Hits and False Alarms</text>
        <text x={40} y={761} fontSize={37} fontWeight={900} fill="#111">b</text>
        <text x={73} y={761} fontSize={36} fontWeight={700} fill="#111">Response Time</text>
        <text x={1200} y={116} fontSize={37} fontWeight={900} fill="#111">c</text>
        <text x={1236} y={116} fontSize={36} fontWeight={700} fill="#111">Sensitivity</text>
        <text x={1200} y={761} fontSize={37} fontWeight={900} fill="#111">d</text>
        <text x={1242} y={761} fontSize={36} fontWeight={700} fill="#111">Response Bias</text>

        <VT x={16} y={394} size={28}>Percentage</VT>
        <VT x={614} y={392} size={27}>Difference</VT>
        <VT x={614} y={241} size={21} weight={600} color={SHIFT_C}>↑ shift</VT>
        <VT x={614} y={564} size={21} weight={600} color={NOSHIFT_C}>↑ no shift</VT>

        <VT x={1205} y={388} size={30} italic>d′</VT>
        <VT x={1630} y={392} size={27}>Difference</VT>
        <VT x={1632} y={254} size={21} weight={600} color={SHIFT_C}>↑ shift</VT>
        <VT x={1632} y={582} size={21} weight={600} color={NOSHIFT_C}>↑ no shift</VT>

        <VT x={16} y={1047} size={28}>Response Time</VT>
        <VT x={41} y={1043} size={20}>(seconds)</VT>
        <VT x={616} y={1048} size={27}>Difference</VT>
        <VT x={616} y={885} size={21} weight={600} color={SHIFT_C}>↑ shift</VT>
        <VT x={616} y={1209} size={21} weight={600} color={NOSHIFT_C}>↑ no shift</VT>

        <VT x={1200} y={1048} size={28}>C</VT>
        <VT x={1190} y={866} size={22}>{"\u201Cno\u201D"}</VT>
        <VT x={1190} y={1228} size={22}>{"\u201Cyes\u201D"}</VT>
        <VT x={1622} y={1046} size={27}>Difference</VT>
        <VT x={1627} y={907} size={21} weight={600} color={SHIFT_C}>↑ shift</VT>
        <VT x={1627} y={1228} size={21} weight={600} color={NOSHIFT_C}>↑ no shift</VT>

        {/* legend, panel a left */}
        <rect x={114} y={549} width={41} height={24} fill={PUR.fill} stroke={PUR.dark} strokeWidth={3.5} />
        <circle cx={134.5} cy={561} r={6.5} fill="#6A3F72" />
        <text x={165} y={561} fontSize={22} dominantBaseline="central" fill="#111">shift</text>
        <rect x={114} y={589} width={41} height={24} fill={TEA.fill} stroke={TEA.dark} strokeWidth={3.5} />
        <circle cx={134.5} cy={601} r={6.5} fill="#4B8C86" />
        <text x={165} y={601} fontSize={22} dominantBaseline="central" fill="#111">no shift</text>

        {/* legend, panel a right */}
        <rect x={695} y={584} width={41} height={25} fill="#F3EE9C" stroke="#F2DE55" strokeWidth={3} />
        <circle cx={715.5} cy={596.5} r={6.5} fill="#A39A4A" />
        <text x={746} y={597} fontSize={22} dominantBaseline="central" fill="#111">shift – no shift</text>
      </svg>
    </div>
  );
}
